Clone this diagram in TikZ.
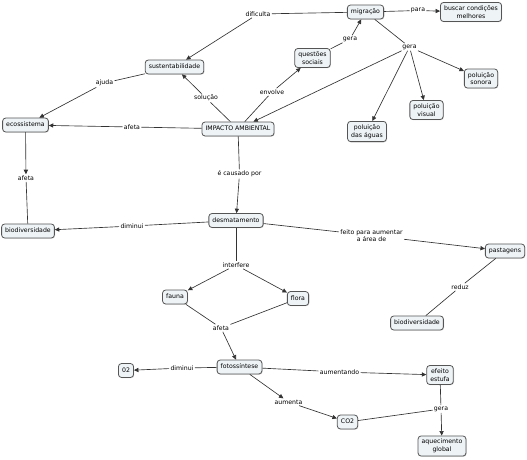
\documentclass[tikz,border=0pt]{standalone}
\usepackage{fontspec}
\setmainfont{DejaVu Sans}
\usetikzlibrary{arrows.meta,shadows}
\definecolor{boxfill}{HTML}{EEF3F6}
\definecolor{boxline}{HTML}{555555}
\definecolor{conn}{HTML}{333333}
\tikzset{
  concept/.style={draw=boxline, line width=0.8pt, fill=boxfill, rounded corners=3pt,
    inner xsep=3.6pt, inner ysep=3.9pt, text height=4.7pt, text depth=1.4pt,
    align=center, font=\fontsize{6.2}{7.5}\selectfont,
    drop shadow={shadow xshift=0.7pt, shadow yshift=-0.7pt, fill=black!30}},
  concepttwo/.style={concept, text height={}, text depth={}, inner ysep=3.3pt},
  lbl/.style={inner sep=1.2pt, align=center, font=\fontsize{6.2}{7.3}\selectfont},
  ln/.style={draw=conn, line width=0.65pt},
  arr/.style={ln, -{Triangle[length=4.5pt,width=4.2pt]}}
}
\begin{document}
\begin{tikzpicture}[x=1pt,y=-1pt]
\useasboundingbox (0,0) rectangle (527,459);
% concepts
\node[concept] (mig) at (365.5,12) {migração};
\node[concepttwo] (busc) at (471,12) {buscar condições\\melhores};
\node[concept] (sust) at (174.5,67) {sustentabilidade};
\node[concepttwo] (quest) at (312.5,58) {questões\\sociais};
\node[concepttwo] (sono) at (481,78.5) {poluição\\sonora};
\node[concepttwo] (visu) at (426.5,110) {poluição\\visual};
\node[concepttwo] (agua) at (367,131.5) {poluição\\das águas};
\node[concept] (imp) at (238,129) {IMPACTO AMBIENTAL};
\node[concept] (eco) at (25.5,125) {ecossistema};
\node[concept] (bioL) at (28,231) {biodiversidade};
\node[concept] (desm) at (236,220.5) {desmatamento};
\node[concept] (past) at (505,251) {pastagens};
\node[concept] (bioR) at (417,323) {biodiversidade};
\node[concept] (fauna) at (175,297) {fauna};
\node[concept] (flora) at (298,298.5) {flora};
\node[concept] (foto) at (239.5,367) {fotossíntese};
\node[concept] (o2) at (126,370.5) {02};
\node[concepttwo] (efeito) at (440,375) {efeito\\estufa};
\node[concept] (co2) at (347.5,422) {CO2};
\node[concepttwo] (aquec) at (442,446) {aquecimento\\global};
% linking phrases
\node[lbl] (lDific) at (258,14) {dificulta};
\node[lbl] (lPara) at (418,10.5) {para};
\node[lbl] (lGeraQ) at (350,39) {gera};
\node[lbl] (lGeraM) at (409.5,47) {gera};
\node[lbl] (lEnv) at (272,92) {envolve};
\node[lbl] (lSol) at (206,98) {solução};
\node[lbl] (lAjuda) at (104.5,83) {ajuda};
\node[lbl] (lAfetaE) at (132,127) {afeta};
\node[lbl] (lAfetaB) at (26,178) {afeta};
\node[lbl] (lCaus) at (239.5,174) {é causado por};
\node[lbl] (lDimB) at (132,226) {diminui};
\node[lbl] (lFeito) at (371.5,235.5) {feito para aumentar\\a área de};
\node[lbl] (lReduz) at (460,287) {reduz};
\node[lbl] (lInterf) at (236,265) {interfere};
\node[lbl] (lAfetaF) at (221,328) {afeta};
\node[lbl] (lDimO) at (182,368) {diminui};
\node[lbl] (lAument) at (339.5,372) {aumentando};
\node[lbl] (lAumenta) at (288.5,402) {aumenta};
\node[lbl] (lGeraA) at (441,409) {gera};
% connectors
\draw[ln] (mig) -- (lDific); \draw[arr] (lDific) -- (sust);
\draw[ln] (mig) -- (lPara); \draw[arr] (lPara) -- (busc);
\draw[ln] (quest) -- (lGeraQ); \draw[arr] (lGeraQ) -- (mig);
\draw[ln] (imp) -- (lEnv); \draw[arr] (lEnv) -- (quest);
\draw[ln] (mig) -- (lGeraM);
\draw[arr] (lGeraM) -- (sono);
\draw[arr] (lGeraM) -- (visu);
\draw[arr] (lGeraM) -- (agua);
\draw[arr] (lGeraM) -- (imp);
\draw[ln] (imp) -- (lSol); \draw[arr] (lSol) -- (sust);
\draw[ln] (sust) -- (lAjuda); \draw[arr] (lAjuda) -- (eco);
\draw[ln] (imp) -- (lAfetaE); \draw[arr] (lAfetaE) -- (eco);
\draw[arr] (eco) -- (lAfetaB); \draw[ln] (lAfetaB) -- (bioL);
\draw[ln] (imp) -- (lCaus); \draw[arr] (lCaus) -- (desm);
\draw[ln] (desm) -- (lDimB); \draw[arr] (lDimB) -- (bioL);
\draw[ln] (desm) -- (lFeito); \draw[arr] (lFeito) -- (past);
\draw[ln] (past) -- (lReduz); \draw[ln] (lReduz) -- (bioR);
\draw[ln] (desm) -- (lInterf);
\draw[arr] (lInterf) -- (fauna);
\draw[arr] (lInterf) -- (flora);
\draw[ln] (fauna) -- (lAfetaF); \draw[ln] (flora) -- (lAfetaF);
\draw[arr] (lAfetaF) -- (foto);
\draw[ln] (foto) -- (lDimO); \draw[arr] (lDimO) -- (o2);
\draw[ln] (foto) -- (lAument); \draw[arr] (lAument) -- (efeito);
\draw[arr] (foto) -- (lAumenta); \draw[arr] (lAumenta) -- (co2);
\draw[ln] (co2) -- (lGeraA); \draw[ln] (efeito) -- (lGeraA);
\draw[arr] (lGeraA) -- (aquec);
\end{tikzpicture}
\end{document}
